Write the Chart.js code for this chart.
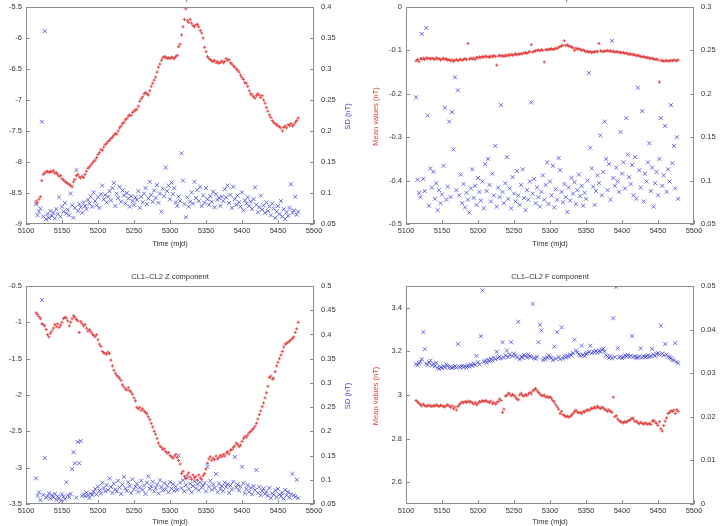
<!DOCTYPE html>
<html>
<head>
<meta charset="utf-8">
<title>CL1–CL2 components</title>
<script src="https://cdn.jsdelivr.net/npm/chart.js@4.4.1/dist/chart.umd.min.js"></script>
<style>
  html, body { margin: 0; padding: 0; background: #fff; }
  body { width: 724px; height: 526px; position: relative; overflow: hidden; }
  .panel { position: absolute; }
</style>
</head>
<body>
<canvas id="panel-x" class="panel" width="362" height="279" style="left:0;top:-16px"></canvas>
<canvas id="panel-y" class="panel" width="380" height="279" style="left:362px;top:-16px"></canvas>
<canvas id="panel-z" class="panel" width="362" height="263" style="left:0;top:263px"></canvas>
<canvas id="panel-f" class="panel" width="380" height="263" style="left:362px;top:263px"></canvas>
<script>
/* ============================================= */
/*                    Data                       */
/* ============================================= */

// one sample every second day, mjd 5114 .. 5478
const days = [];
for (let d = 5114; d <= 5478; d += 2) days.push(d);

const timeTicks = [5100, 5150, 5200, 5250, 5300, 5350, 5400, 5450, 5500];

// X component
const meanTicksX = [-9, -8.5, -8, -7.5, -7, -6.5, -6, -5.5];
const sdTicksX = [0.05, 0.1, 0.15, 0.2, 0.25, 0.3, 0.35, 0.4];
const meanX = [
  -8.63, -8.66, -8.60, -8.56, -8.30, -8.20, -8.18, -8.16, -8.15, -8.17,
  -8.15, -8.16, -8.14, -8.18, -8.17, -8.20, -8.23, -8.22, -8.27, -8.29,
  -8.31, -8.33, -8.35, -8.36, -8.38, -8.40, -8.32, -8.28, -8.22, -8.20,
  -8.24, -8.26, -8.23, -8.25, -8.20, -8.15, -8.10, -8.08, -8.05, -8.02,
  -7.99, -7.97, -7.93, -7.88, -7.85, -7.80, -7.81, -7.76, -7.72, -7.70,
  -7.67, -7.65, -7.62, -7.60, -7.57, -7.54, -7.55, -7.50, -7.45, -7.42,
  -7.38, -7.36, -7.32, -7.30, -7.26, -7.24, -7.25, -7.20, -7.18, -7.16,
  -7.15, -7.10, -7.02, -6.98, -6.95, -6.90, -6.88, -6.90, -6.92, -6.85,
  -6.78, -6.73, -6.68, -6.63, -6.55, -6.47, -6.42, -6.36, -6.32, -6.30,
  -6.31, -6.33, -6.32, -6.33, -6.31, -6.32, -6.33, -6.30, -6.28, -6.14,
  -6.10, -5.95, -5.82, -5.70, -5.53, -5.72, -5.75, -5.70, -5.76, -5.80,
  -5.82, -5.79, -5.78, -5.82, -5.88, -5.92, -6.00, -6.15, -6.22, -6.30,
  -6.33, -6.35, -6.37, -6.38, -6.36, -6.40, -6.38, -6.41, -6.39, -6.37,
  -6.40, -6.38, -6.33, -6.36, -6.35, -6.40, -6.42, -6.45, -6.47, -6.50,
  -6.52, -6.55, -6.60, -6.64, -6.67, -6.72, -6.73, -6.78, -6.85, -6.90,
  -6.92, -6.95, -6.97, -6.93, -6.90, -6.92, -6.96, -6.93, -7.00, -7.05,
  -7.12, -7.18, -7.24, -7.28, -7.33, -7.36, -7.38, -7.40, -7.42, -7.43,
  -7.45, -7.50, -7.44, -7.42, -7.45, -7.40, -7.41, -7.38, -7.42, -7.40,
  -7.36, -7.33, -7.29
];
const sdX = [
  0.082, 0.064, 0.070, 0.075, 0.215, 0.062, 0.361, 0.058, 0.066, 0.060,
  0.071, 0.063, 0.068, 0.059, 0.074, 0.066, 0.093, 0.062, 0.078, 0.070,
  0.084, 0.067, 0.073, 0.064, 0.099, 0.080, 0.060, 0.076, 0.137, 0.071,
  0.082, 0.077, 0.068, 0.085, 0.079, 0.074, 0.089, 0.083, 0.094, 0.078,
  0.101, 0.087, 0.080, 0.093, 0.076, 0.098, 0.112, 0.090, 0.097, 0.085,
  0.094, 0.103, 0.088, 0.108, 0.116, 0.079, 0.099, 0.092, 0.110, 0.086,
  0.104, 0.096, 0.083, 0.100, 0.091, 0.078, 0.095, 0.087, 0.081, 0.093,
  0.089, 0.103, 0.076, 0.094, 0.085, 0.099, 0.108, 0.082, 0.091, 0.118,
  0.097, 0.086, 0.104, 0.092, 0.113, 0.084, 0.099, 0.070, 0.107, 0.095,
  0.141, 0.103, 0.112, 0.090, 0.117, 0.098, 0.108, 0.085, 0.079, 0.094,
  0.087, 0.164, 0.120, 0.082, 0.061, 0.093, 0.078, 0.086, 0.101, 0.083,
  0.118, 0.092, 0.105, 0.087, 0.110, 0.079, 0.096, 0.084, 0.108, 0.090,
  0.081, 0.095, 0.086, 0.102, 0.077, 0.098, 0.089, 0.092, 0.079, 0.094,
  0.087, 0.106, 0.093, 0.112, 0.084, 0.097, 0.076, 0.110, 0.090, 0.081,
  0.096, 0.085, 0.078, 0.101, 0.072, 0.088, 0.083, 0.093, 0.079, 0.086,
  0.074, 0.090, 0.109, 0.081, 0.069, 0.077, 0.096, 0.073, 0.080, 0.068,
  0.085, 0.071, 0.078, 0.064, 0.083, 0.075, 0.060, 0.070, 0.079, 0.066,
  0.087, 0.062, 0.074, 0.058, 0.069, 0.063, 0.076, 0.114, 0.068, 0.072,
  0.094, 0.065, 0.070
];

// Y component
const meanTicksY = [-0.5, -0.4, -0.3, -0.2, -0.1, 0];
const sdTicksY = [0.05, 0.1, 0.15, 0.2, 0.25, 0.3];
const meanY = [
  -0.124, -0.121, -0.126, -0.119, -0.120, -0.118, -0.121, -0.117, -0.119, -0.118,
  -0.120, -0.118, -0.119, -0.121, -0.117, -0.120, -0.119, -0.122, -0.120, -0.118,
  -0.121, -0.119, -0.123, -0.121, -0.124, -0.122, -0.125, -0.123, -0.121, -0.124,
  -0.122, -0.120, -0.123, -0.121, -0.119, -0.121, -0.084, -0.120, -0.118, -0.120,
  -0.118, -0.121, -0.116, -0.117, -0.115, -0.117, -0.114, -0.116, -0.113, -0.115,
  -0.114, -0.116, -0.113, -0.115, -0.112, -0.114, -0.134, -0.113, -0.111, -0.113,
  -0.112, -0.114, -0.111, -0.113, -0.110, -0.112, -0.109, -0.111, -0.110, -0.108,
  -0.110, -0.108, -0.109, -0.107, -0.108, -0.106, -0.105, -0.107, -0.104, -0.103,
  -0.087, -0.104, -0.102, -0.101, -0.100, -0.099, -0.101, -0.098, -0.100, -0.127,
  -0.098, -0.099, -0.097, -0.098, -0.096, -0.098, -0.097, -0.095, -0.096, -0.093,
  -0.091, -0.090, -0.088, -0.078, -0.089, -0.087, -0.090, -0.091, -0.092, -0.094,
  -0.100, -0.095, -0.097, -0.096, -0.098, -0.100, -0.099, -0.101, -0.103, -0.102,
  -0.104, -0.103, -0.105, -0.103, -0.104, -0.102, -0.103, -0.084, -0.101, -0.102,
  -0.103, -0.101, -0.102, -0.100, -0.102, -0.101, -0.103, -0.102, -0.104, -0.103,
  -0.103, -0.105, -0.104, -0.106, -0.105, -0.107, -0.106, -0.108, -0.109, -0.108,
  -0.110, -0.109, -0.111, -0.112, -0.111, -0.113, -0.114, -0.115, -0.114, -0.116,
  -0.117, -0.116, -0.118, -0.119, -0.118, -0.120, -0.121, -0.120, -0.122, -0.173,
  -0.124, -0.123, -0.125, -0.124, -0.123, -0.125, -0.124, -0.123, -0.124, -0.122,
  -0.123, -0.124, -0.122
];
const sdY = [
  0.196, 0.101, 0.086, 0.081, 0.269, 0.102, 0.088, 0.276, 0.175, 0.071,
  0.114, 0.092, 0.110, 0.079, 0.097, 0.066, 0.089, 0.074, 0.084, 0.117,
  0.184, 0.078, 0.093, 0.168, 0.081, 0.179, 0.136, 0.219, 0.089, 0.204,
  0.083, 0.107, 0.074, 0.096, 0.069, 0.086, 0.078, 0.063, 0.091, 0.113,
  0.080, 0.094, 0.072, 0.103, 0.087, 0.077, 0.099, 0.068, 0.119, 0.088,
  0.125, 0.095, 0.076, 0.108, 0.083, 0.140, 0.070, 0.092, 0.081, 0.187,
  0.087, 0.074, 0.097, 0.127, 0.079, 0.091, 0.068, 0.104, 0.085, 0.076,
  0.111, 0.083, 0.072, 0.095, 0.113, 0.080, 0.066, 0.089, 0.078, 0.099,
  0.190, 0.085, 0.102, 0.074, 0.092, 0.081, 0.070, 0.087, 0.106, 0.078,
  0.095, 0.121, 0.073, 0.099, 0.083, 0.117, 0.069, 0.090, 0.078, 0.126,
  0.112, 0.087, 0.075, 0.096, 0.081, 0.064, 0.092, 0.077, 0.103, 0.085,
  0.098, 0.073, 0.089, 0.107, 0.082, 0.094, 0.071, 0.086, 0.079, 0.100,
  0.224, 0.138, 0.114, 0.093, 0.072, 0.088, 0.106, 0.097, 0.152, 0.083,
  0.110, 0.168, 0.125, 0.089, 0.119, 0.078, 0.261, 0.103, 0.094, 0.115,
  0.099, 0.087, 0.156, 0.108, 0.121, 0.091, 0.172, 0.130, 0.104, 0.096,
  0.118, 0.083, 0.127, 0.079, 0.207, 0.112, 0.092, 0.180, 0.076, 0.108,
  0.099, 0.121, 0.143, 0.088, 0.115, 0.070, 0.097, 0.110, 0.083, 0.125,
  0.172, 0.094, 0.106, 0.163, 0.087, 0.113, 0.099, 0.187, 0.120, 0.140,
  0.091, 0.150, 0.079
];

// Z component
const meanTicksZ = [-3.5, -3, -2.5, -2, -1.5, -1, -0.5];
const sdTicksZ = [0.05, 0.1, 0.15, 0.2, 0.25, 0.3, 0.35, 0.4, 0.45, 0.5];
const meanZ = [
  -0.87, -0.89, -0.92, -0.95, -1.02, -1.03, -1.05, -1.10, -1.17, -1.20,
  -1.15, -1.12, -1.08, -1.03, -1.06, -1.02, -1.07, -1.04, -1.00, -0.95,
  -0.93, -0.94, -0.98, -1.05, -1.00, -0.95, -0.91, -0.93, -0.96, -0.98,
  -1.14, -0.99, -1.02, -1.05, -1.03, -1.08, -1.12, -1.10, -1.13, -1.16,
  -1.18, -1.20, -1.17, -1.24, -1.30, -1.33, -1.40, -1.42, -1.43, -1.44,
  -1.41, -1.43, -1.52, -1.60, -1.66, -1.70, -1.73, -1.75, -1.77, -1.80,
  -1.86, -1.89, -1.92, -1.93, -1.90, -1.94, -1.96, -1.99, -2.04, -2.08,
  -2.17, -2.19, -2.17, -2.21, -2.19, -2.22, -2.24, -2.26, -2.30, -2.34,
  -2.39, -2.44, -2.50, -2.54, -2.60, -2.66, -2.70, -2.72, -2.75, -2.74,
  -2.78, -2.80, -2.79, -2.83, -2.85, -2.87, -2.84, -2.82, -2.86, -2.90,
  -2.95, -3.08, -3.05, -3.12, -3.15, -3.10, -3.07, -3.13, -3.16, -3.10,
  -3.14, -3.12, -3.17, -3.10, -3.14, -3.16, -3.11, -3.08, -3.02, -2.94,
  -2.88, -2.85, -2.90, -2.87, -2.89, -2.84, -2.88, -2.86, -2.83, -2.85,
  -2.82, -2.84, -2.80, -2.78, -2.81, -2.76, -2.75, -2.72, -2.70, -2.66,
  -2.68, -2.71, -2.69, -2.64, -2.60, -2.57, -2.58, -2.55, -2.52, -2.50,
  -2.48, -2.46, -2.43, -2.39, -2.33, -2.27, -2.22, -2.16, -2.11, -2.04,
  -1.97, -1.88, -1.76, -1.74, -1.78, -1.77, -1.68, -1.60, -1.55, -1.50,
  -1.45, -1.40, -1.34, -1.30, -1.29, -1.27, -1.26, -1.24, -1.22, -1.20,
  -1.14, -1.09, -1.00
];
const sdZ = [
  0.103, 0.067, 0.074, 0.058, 0.471, 0.069, 0.145, 0.063, 0.066, 0.072,
  0.061, 0.068, 0.064, 0.071, 0.059, 0.066, 0.062, 0.056, 0.070, 0.065,
  0.060, 0.095, 0.068, 0.064, 0.071, 0.122, 0.157, 0.134, 0.063, 0.178,
  0.134, 0.180, 0.067, 0.070, 0.066, 0.074, 0.068, 0.062, 0.071, 0.069,
  0.075, 0.081, 0.070, 0.086, 0.078, 0.072, 0.094, 0.083, 0.076, 0.089,
  0.079, 0.103, 0.085, 0.073, 0.092, 0.080, 0.076, 0.098, 0.084, 0.071,
  0.090, 0.106, 0.082, 0.077, 0.095, 0.087, 0.073, 0.101, 0.080, 0.086,
  0.092, 0.075, 0.084, 0.098, 0.079, 0.088, 0.071, 0.094, 0.107, 0.081,
  0.087, 0.096, 0.076, 0.083, 0.090, 0.072, 0.099, 0.085, 0.078, 0.093,
  0.080, 0.088, 0.074, 0.095, 0.082, 0.091, 0.077, 0.086, 0.079, 0.150,
  0.094, 0.083, 0.099, 0.076, 0.089, 0.104, 0.081, 0.092, 0.074, 0.087,
  0.097, 0.082, 0.091, 0.078, 0.095, 0.084, 0.088, 0.093, 0.076, 0.127,
  0.086, 0.098, 0.079, 0.090, 0.083, 0.112, 0.074, 0.092, 0.081, 0.087,
  0.077, 0.094, 0.085, 0.091, 0.073, 0.088, 0.080, 0.096, 0.147, 0.084,
  0.090, 0.078, 0.086, 0.127, 0.093, 0.072, 0.081, 0.089, 0.075, 0.083,
  0.070, 0.087, 0.079, 0.120, 0.073, 0.085, 0.068, 0.077, 0.082, 0.071,
  0.075, 0.067, 0.083, 0.062, 0.072, 0.069, 0.078, 0.064, 0.081, 0.070,
  0.066, 0.073, 0.061, 0.079, 0.068, 0.075, 0.063, 0.070, 0.112, 0.068,
  0.065, 0.100, 0.062
];

// F component
const meanTicksF = [2.6, 2.8, 3, 3.2, 3.4];
const sdTicksF = [0, 0.01, 0.02, 0.03, 0.04, 0.05];
const meanF = [
  2.975, 2.968, 2.962, 2.955, 2.950, 2.958, 2.952, 2.948, 2.951, 2.953,
  2.950, 2.946, 2.952, 2.949, 2.955, 2.951, 2.947, 2.953, 2.950, 2.948,
  2.945, 2.952, 2.955, 2.949, 2.944, 2.950, 2.937, 2.945, 2.931, 2.948,
  2.955, 2.962, 2.968, 2.965, 2.970, 2.966, 2.972, 2.968, 2.970, 2.964,
  2.958, 2.966, 2.955, 2.962, 2.970, 2.968, 2.974, 2.970, 2.975, 2.972,
  2.968, 2.965, 2.972, 2.960, 2.966, 2.958, 2.963, 2.970, 2.982, 2.975,
  2.920, 2.935, 2.995, 2.998, 3.008, 3.005, 2.996, 3.002, 2.998, 2.990,
  2.982, 2.978, 3.000, 3.008, 2.998, 2.995, 3.002, 2.997, 3.005, 3.012,
  3.005, 3.018, 3.025, 3.030, 3.020, 3.012, 3.005, 2.998, 2.996, 3.000,
  2.990, 2.994, 2.988, 2.992, 2.985, 2.975, 2.968, 2.955, 2.945, 2.935,
  2.915, 2.925, 2.910, 2.905, 2.900, 2.903, 2.898, 2.902, 2.908, 2.915,
  2.925, 2.930, 2.922, 2.918, 2.920, 2.915, 2.925, 2.922, 2.928, 2.932,
  2.928, 2.935, 2.940, 2.938, 2.945, 2.940, 2.948, 2.942, 2.938, 2.945,
  2.940, 2.935, 2.930, 2.925, 2.932, 2.925, 2.920, 2.990, 2.900, 2.905,
  2.890, 2.882, 2.878, 2.875, 2.872, 2.878, 2.875, 2.880, 2.883, 2.888,
  2.895, 2.890, 2.878, 2.880, 2.872, 2.868, 2.875, 2.870, 2.866, 2.872,
  2.868, 2.866, 2.870, 2.865, 2.880, 2.884, 2.876, 2.870, 2.860, 2.878,
  2.845, 2.835, 2.860, 2.880, 2.895, 2.915, 2.920, 2.928, 2.925, 2.930,
  2.915, 2.932, 2.925
];
const sdF = [
  0.0321, 0.0318, 0.0323, 0.0326, 0.0332, 0.0394, 0.0355, 0.0322, 0.0319, 0.0325,
  0.0329, 0.0318, 0.0322, 0.0316, 0.0324, 0.0313, 0.0310, 0.0314, 0.0312, 0.0316,
  0.0313, 0.0320, 0.0317, 0.0313, 0.0315, 0.0312, 0.0314, 0.0316, 0.0313, 0.0367,
  0.0315, 0.0313, 0.0317, 0.0314, 0.0316, 0.0313, 0.0318, 0.0315, 0.0320, 0.0317,
  0.0322, 0.0319, 0.0340, 0.0325, 0.0320, 0.0385, 0.0490, 0.0326, 0.0329, 0.0324,
  0.0331, 0.0327, 0.0333, 0.0329, 0.0336, 0.0332, 0.0349, 0.0335, 0.0338, 0.0334,
  0.0371, 0.0336, 0.0341, 0.0352, 0.0337, 0.0343, 0.0371, 0.0339, 0.0345, 0.0341,
  0.0336, 0.0418, 0.0332, 0.0338, 0.0335, 0.0342, 0.0340, 0.0336, 0.0343, 0.0339,
  0.0337, 0.0459, 0.0335, 0.0333, 0.0338, 0.0371, 0.0411, 0.0398, 0.0330, 0.0334,
  0.0332, 0.0336, 0.0341, 0.0338, 0.0335, 0.0330, 0.0361, 0.0333, 0.0394, 0.0337,
  0.0332, 0.0405, 0.0334, 0.0339, 0.0336, 0.0340, 0.0338, 0.0343, 0.0341, 0.0346,
  0.0377, 0.0352, 0.0348, 0.0343, 0.0340, 0.0363, 0.0342, 0.0339, 0.0344, 0.0346,
  0.0349, 0.0363, 0.0346, 0.0350, 0.0348, 0.0351, 0.0347, 0.0352, 0.0349, 0.0354,
  0.0356, 0.0350, 0.0341, 0.0338, 0.0335, 0.0339, 0.0334, 0.0426, 0.0337, 0.0498,
  0.0357, 0.0336, 0.0338, 0.0335, 0.0337, 0.0341, 0.0339, 0.0342, 0.0338, 0.0340,
  0.0385, 0.0337, 0.0339, 0.0335, 0.0336, 0.0338, 0.0357, 0.0336, 0.0339, 0.0337,
  0.0338, 0.0341, 0.0337, 0.0339, 0.0355, 0.0342, 0.0340, 0.0344, 0.0346, 0.0343,
  0.0409, 0.0345, 0.0341, 0.0367, 0.0343, 0.0338, 0.0336, 0.0334, 0.0331, 0.0329,
  0.0369, 0.0326, 0.0323
];

/* ============================================= */
/*                    Panels                     */
/* ============================================= */

const RED = '#e23c3c';
const BLUE = '#4646dc';
const FONT = '"Liberation Sans", Arial, sans-serif';

// top panels sit 16px above the page so their titles are cut like in the figure
const panels = [
  { id: 'panel-x', title: 'CL1–CL2 X component', area: { l: 26, r: 314, t: 23, b: 240 },
    mean: meanX, sd: sdX, meanTicks: meanTicksX, sdTicks: sdTicksX, meanRange: [-9, -5.5], sdRange: [0.05, 0.4], timeGap: 20 },
  { id: 'panel-y', title: 'CL1–CL2 Y component', area: { l: 44, r: 332, t: 23, b: 240 },
    mean: meanY, sd: sdY, meanTicks: meanTicksY, sdTicks: sdTicksY, meanRange: [-0.5, 0], sdRange: [0.05, 0.3], timeGap: 20 },
  { id: 'panel-z', title: 'CL1–CL2 Z component', area: { l: 26, r: 314, t: 23, b: 241 },
    mean: meanZ, sd: sdZ, meanTicks: meanTicksZ, sdTicks: sdTicksZ, meanRange: [-3.5, -0.5], sdRange: [0.05, 0.5], timeGap: 17.5 },
  { id: 'panel-f', title: 'CL1–CL2 F component', area: { l: 44, r: 332, t: 23, b: 241 },
    mean: meanF, sd: sdF, meanTicks: meanTicksF, sdTicks: sdTicksF, meanRange: [2.5, 3.5], sdRange: [0, 0.05], timeGap: 17.5 }
];

const fmt = v => String(Math.round(v * 10000) / 10000);

function rotatedText(ctx, text, x, y, color) {
  ctx.save();
  ctx.translate(x, y);
  ctx.rotate(-Math.PI / 2);
  ctx.fillStyle = color;
  ctx.textAlign = 'center';
  ctx.textBaseline = 'middle';
  ctx.fillText(text, 0, 0);
  ctx.restore();
}

// gnuplot style frame: box, inward ticks, axis titles, panel title
function framePlugin(p) {
  return {
    id: 'frame',
    afterDraw(chart) {
      const { ctx, chartArea: a, scales } = chart;
      ctx.save();
      ctx.strokeStyle = '#8c8c8c';
      ctx.lineWidth = 1;
      ctx.strokeRect(a.left + 0.5, a.top + 0.5, a.right - a.left - 1, a.bottom - a.top - 1);
      ctx.beginPath();
      scales.x.ticks.forEach(t => {
        const px = Math.round(scales.x.getPixelForValue(t.value)) + 0.5;
        ctx.moveTo(px, a.bottom);
        ctx.lineTo(px, a.bottom - 4);
      });
      scales.y.ticks.forEach(t => {
        const py = Math.round(scales.y.getPixelForValue(t.value)) + 0.5;
        ctx.moveTo(a.left, py);
        ctx.lineTo(a.left + 4, py);
      });
      scales.y1.ticks.forEach(t => {
        const py = Math.round(scales.y1.getPixelForValue(t.value)) + 0.5;
        ctx.moveTo(a.right, py);
        ctx.lineTo(a.right - 4, py);
      });
      ctx.stroke();

      ctx.font = '7.5px ' + FONT;
      ctx.fillStyle = '#333';
      ctx.textAlign = 'center';
      ctx.textBaseline = 'middle';
      const cx = (a.left + a.right) / 2;
      const cy = (a.top + a.bottom) / 2 + 1;
      ctx.fillText('Time (mjd)', cx, a.bottom + p.timeGap);
      ctx.textBaseline = 'alphabetic';
      ctx.fillText(p.title, cx, a.top - 7.3);
      rotatedText(ctx, 'Mean values (nT)', a.left - 30, cy, RED);
      rotatedText(ctx, 'SD (nT)', a.right + 34, cy, BLUE);
      ctx.restore();
    }
  };
}

function tickSetter(values) {
  return scale => { scale.ticks = values.map(v => ({ value: v })); };
}

const tickFont = { family: FONT, size: 7.5 };

panels.forEach(p => {
  const canvas = document.getElementById(p.id);
  const W = canvas.width, H = canvas.height;

  new Chart(canvas, {
    type: 'scatter',
    data: {
      datasets: [{
        label: 'Mean values',
        data: days.map((d, i) => ({ x: d, y: p.mean[i] })),
        yAxisID: 'y',
        pointStyle: 'cross',
        pointRadius: 1.6,
        pointBorderWidth: 0.9,
        borderColor: RED,
        backgroundColor: RED
      }, {
        label: 'SD',
        data: days.map((d, i) => ({ x: d, y: p.sd[i] })),
        yAxisID: 'y1',
        pointStyle: 'crossRot',
        pointRadius: 2.8,
        pointBorderWidth: 0.8,
        borderColor: BLUE,
        backgroundColor: BLUE
      }]
    },
    options: {
      responsive: false,
      animation: false,
      events: [],
      layout: { padding: { top: p.area.t, left: 0, right: 0, bottom: 0 } },
      plugins: {
        legend: { display: false },
        tooltip: { enabled: false }
      },
      scales: {
        x: {
          type: 'linear',
          position: 'bottom',
          min: 5100,
          max: 5500,
          afterFit: s => { s.height = H - p.area.b; },
          afterBuildTicks: tickSetter(timeTicks),
          grid: { display: false, drawTicks: false },
          border: { display: false },
          ticks: { padding: 2.5, maxRotation: 0, autoSkip: false, callback: fmt, color: '#333', font: tickFont }
        },
        y: {
          type: 'linear',
          position: 'left',
          min: p.meanRange[0],
          max: p.meanRange[1],
          afterFit: s => { s.width = p.area.l; },
          afterBuildTicks: tickSetter(p.meanTicks),
          grid: { display: false, drawTicks: false },
          border: { display: false },
          ticks: { padding: 4, autoSkip: false, callback: fmt, color: '#333', font: tickFont }
        },
        y1: {
          type: 'linear',
          position: 'right',
          min: p.sdRange[0],
          max: p.sdRange[1],
          afterFit: s => { s.width = W - p.area.r; },
          afterBuildTicks: tickSetter(p.sdTicks),
          grid: { display: false, drawTicks: false },
          border: { display: false },
          ticks: { padding: 7, autoSkip: false, callback: fmt, color: '#333', font: tickFont }
        }
      }
    },
    plugins: [framePlugin(p)]
  });
});
</script>
</body>
</html>
